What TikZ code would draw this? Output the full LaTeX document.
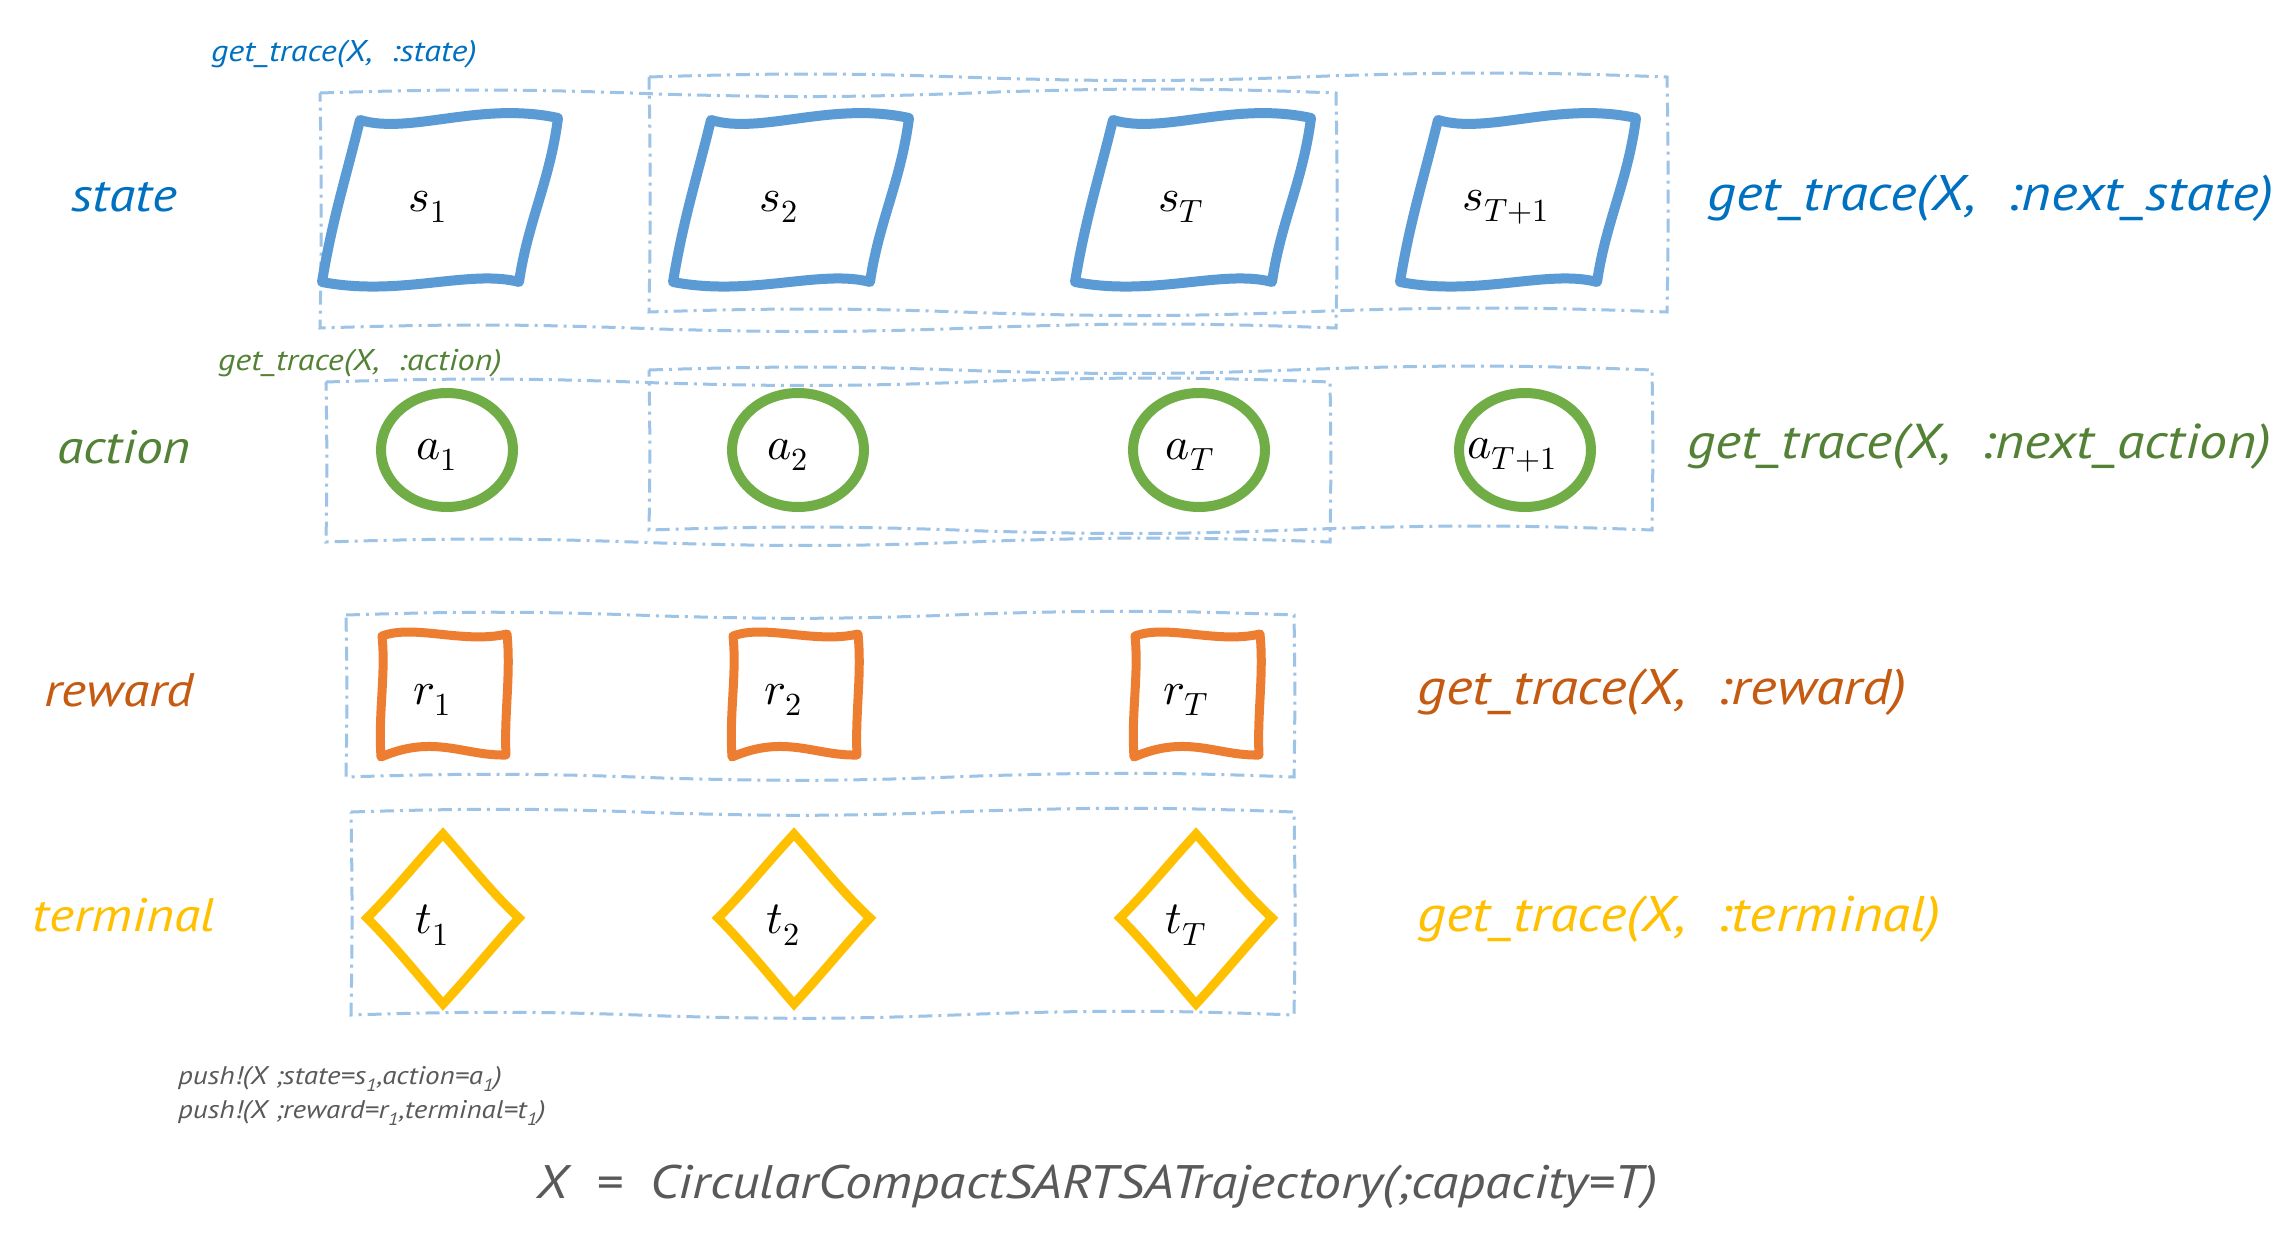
\documentclass[tikz,border=0pt]{standalone}
\usepackage{fontspec}
\usepackage{unicode-math}
\setmathfont{latinmodern-math.otf}
\newfontfamily\hand{PT Sans}[FakeStretch=1.14]
\definecolor{cstate}{HTML}{0070C0}
\definecolor{sshape}{HTML}{5B9BD5}
\definecolor{caction}{HTML}{538135}
\definecolor{ashape}{HTML}{70AD47}
\definecolor{creward}{HTML}{C55A11}
\definecolor{rshape}{HTML}{ED7D31}
\definecolor{cterm}{HTML}{FFC000}
\definecolor{boxc}{HTML}{9DC3E6}
\definecolor{graytxt}{HTML}{595959}
\tikzset{
  boxd/.style={draw=boxc, line width=3pt, dash pattern=on 14pt off 6pt on 3pt off 6pt},
  bigl/.style={font=\hand\itshape\fontsize{50}{56}\selectfont, inner sep=0pt},
  rowl/.style={font=\hand\itshape\fontsize{47}{52}\selectfont, inner sep=0pt},
  smalll/.style={font=\hand\itshape\fontsize{30}{34}\selectfont, inner sep=0pt, anchor=west},
  pushl/.style={font=\hand\itshape\fontsize{25.5}{30}\selectfont, inner sep=0pt, anchor=west, text=graytxt},
  mth/.style={font=\fontsize{46}{52}\selectfont, inner sep=0pt},
  spar/.pic={\draw[sshape, line width=10pt, line join=round]
     (-80,-81) .. controls (-30,-66) and (40,-100) .. (118,-83)
     .. controls (110,-20) and (88,20) .. (79,81)
     .. controls (30,68) and (-40,96) .. (-118,81)
     .. controls (-108,20) and (-95,-20) .. (-80,-81) -- cycle;},
  rsq/.pic={\draw[rshape, line width=9pt, line join=round]
     (-62,-58) .. controls (-30,-70) and (20,-50) .. (63,-60)
     .. controls (67,-20) and (60,20) .. (62,61)
     .. controls (20,62) and (-10,40) .. (-63,63)
     .. controls (-66,20) and (-58,-20) .. (-62,-58) -- cycle;},
  tdia/.pic={\draw[cterm, line width=9pt, line join=miter]
     (0,-84) .. controls (25,-56) and (48,-26) .. (76,0)
     .. controls (50,28) and (26,58) .. (0,86)
     .. controls (-26,56) and (-49,27) .. (-76,0)
     .. controls (-49,-27) and (-26,-56) .. (0,-84) -- cycle;}
}
% slightly wavy dash-dot box: #1,#2 = top-left; #3,#4 = bottom-right
\newcommand\wavybox[4]{%
  \draw[boxd] (#1,#2)
    to[bend left=2] ({#1+(#3-#1)/3},{#2+1})
    to[bend right=2] ({#1+2*(#3-#1)/3},{#2-1})
    to[bend left=2] (#3,#2)
    to[bend left=1] (#3,#4)
    to[bend right=2] ({#1+2*(#3-#1)/3},{#4-1})
    to[bend left=2] ({#1+(#3-#1)/3},{#4+1})
    to[bend right=2] (#1,#4)
    to[bend right=1] (#1,#2) -- cycle;}
\begin{document}
\begin{tikzpicture}[x=1pt,y=-1pt]
\useasboundingbox[fill=white] (0,0) rectangle (2284,1238);

% dashed group boxes
\wavybox{320}{93}{1336}{328}
\wavybox{649}{77}{1667}{312}
\wavybox{326}{382}{1330}{542}
\wavybox{649}{370}{1652}{530}
\wavybox{346}{615}{1294}{777}
\wavybox{351}{812}{1294}{1015}

% state row
\node[mth] (s1) at (428,207) {$s_1$};
\node[mth] (s2) at (779,207) {$s_2$};
\node[mth] (sT) at (1181,207) {$s_T$};
\node[mth] (sT1) at (1506,207) {$s_{T+1}$};
\pic at (440,201) {spar};
\pic at (791,201) {spar};
\pic at (1193,201) {spar};
\pic at (1518,201) {spar};

% action row
\node[mth] (a1) at (437,455) {$a_1$};
\node[mth] (a2) at (788,455) {$a_2$};
\node[mth] (aT) at (1190,455) {$a_T$};
\node[mth] (aT1) at (1512,455) {$a_{T+1}$};
\foreach \c in {(447,450),(798,450),(1199,450),(1525,450)}
  \draw[ashape, line width=10pt] \c ellipse [x radius=66pt, y radius=57pt];

% reward row
\node[mth] (r1) at (432,700) {$r_1$};
\node[mth] (r2) at (783,700) {$r_2$};
\node[mth] (rT) at (1186,700) {$r_T$};
\pic at (444,694) {rsq};
\pic at (795,694) {rsq};
\pic at (1197,694) {rsq};

% terminal row
\node[mth] (t1) at (432,925) {$t_1$};
\node[mth] (t2) at (783,925) {$t_2$};
\node[mth] (tT) at (1186,925) {$t_T$};
\pic at (443,918) {tdia};
\pic at (794,918) {tdia};
\pic at (1196,918) {tdia};

% row labels
\node[rowl, text=cstate] (lstate) at (124,197) {state};
\node[rowl, text=caction] (laction) at (124,447) {action};
\node[rowl, text=creward] (lreward) at (119,690) {reward};
\node[rowl, text=cterm] (lterm) at (124,915) {terminal};

% trace labels
\node[smalll, text=cstate] (gstate) at (211,54) {get\_trace(X, \ :state)};
\node[smalll, text=caction] (gaction) at (218,363) {get\_trace(X, \ :action)};
\node[bigl, anchor=west, text=cstate] (gnstate) at (1707,198) {get\_trace(X, \ :next\_state)};
\node[bigl, anchor=west, text=caction, font=\hand\itshape\fontsize{49}{54}\selectfont] (gnaction) at (1687,446) {get\_trace(X, \ :next\_action)};
\node[bigl, anchor=west, text=creward] (greward) at (1417,692) {get\_trace(X, \ :reward)};
\node[bigl, anchor=west, text=cterm] (gterm) at (1417,919) {get\_trace(X, \ :terminal)};

% bottom text
\node[pushl] (push1) at (178,1079) {push!(X ;state=s\textsubscript{1},action=a\textsubscript{1})};
\node[pushl] (push2) at (178,1113) {push!(X ;reward=r\textsubscript{1},terminal=t\textsubscript{1})};
\node[bigl, anchor=west, text=graytxt, font=\hand\itshape\fontsize{47}{52}\selectfont] (main) at (536,1187) {X \ = \ CircularCompactSARTSATrajectory(;capacity=T)};
\end{tikzpicture}
\end{document}
